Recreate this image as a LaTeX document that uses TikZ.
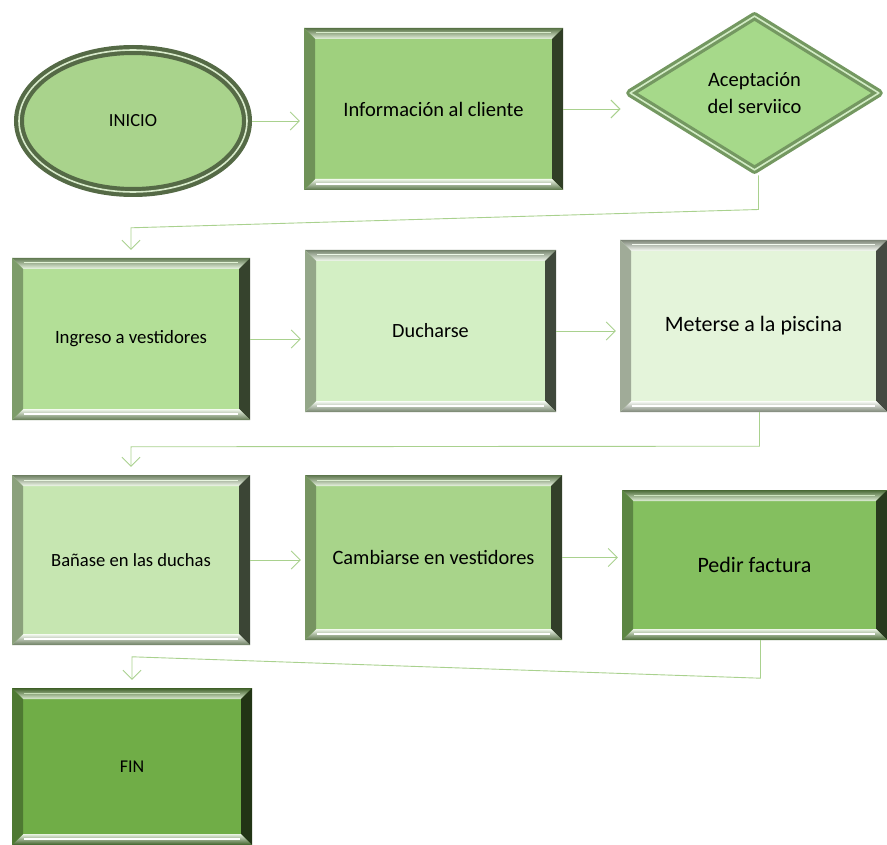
\documentclass[tikz,border=0pt]{standalone}
\usepackage{fontspec}
\setmainfont{Carlito}
\usetikzlibrary{shapes.geometric,arrows.meta,calc}
\definecolor{cIni}{HTML}{A9D38C}
\definecolor{cInfo}{HTML}{9FD07E}
\definecolor{cDia}{HTML}{A6D98A}
\definecolor{cIng}{HTML}{B3DF97}
\definecolor{cDuc}{HTML}{D3EFC4}
\definecolor{cMet}{HTML}{E4F4DA}
\definecolor{cBan}{HTML}{C6E6B1}
\definecolor{cCam}{HTML}{A8D48A}
\definecolor{cPed}{HTML}{84BF5F}
\definecolor{cFin}{HTML}{70AD47}
\definecolor{cLine}{HTML}{A9D18E}
\newcommand\bevelfill[1]{%
  \path (path picture bounding box.north west) coordinate (pNW)
        (path picture bounding box.north east) coordinate (pNE)
        (path picture bounding box.south west) coordinate (pSW)
        (path picture bounding box.south east) coordinate (pSE);
  \shade[top color=#1!55!black, bottom color=#1!25!white]
    (pNW) -- (pNE) -- ([shift={(-11pt,-11pt)}]pNE) -- ([shift={(11pt,-11pt)}]pNW) -- cycle;
  \fill[#1!30!black]
    (pNE) -- (pSE) -- ([shift={(-11pt,11pt)}]pSE) -- ([shift={(-11pt,-11pt)}]pNE) -- cycle;
  \shade[top color=#1!15!white, bottom color=#1!55!black]
    (pSW) -- (pSE) -- ([shift={(-11pt,11pt)}]pSE) -- ([shift={(11pt,11pt)}]pSW) -- cycle;
  \fill[#1!70!black]
    (pNW) -- (pSW) -- ([shift={(11pt,11pt)}]pSW) -- ([shift={(11pt,-11pt)}]pNW) -- cycle;
  \draw[white, line width=1.2pt]
    ([shift={(12pt,6pt)}]pSW) -- ([shift={(-12pt,6pt)}]pSE);
  \draw[white!60!#1, line width=1pt]
    ([shift={(12pt,-5pt)}]pNW) -- ([shift={(-12pt,-5pt)}]pNE);
}
\tikzset{
  bevelbox/.style={rectangle, inner sep=0pt, fill=#1, path picture={\bevelfill{#1}},
    font=\fontsize{19.5}{23}\selectfont, text=black, align=center},
  bigtxt/.style={font=\fontsize{22}{26}\selectfont},
  conn/.style={draw=cLine, line width=0.9pt, -{Straight Barb[length=9pt,width=18pt]}, shorten >=4pt},
  elbow/.style={draw=cLine, line width=0.9pt, -{Straight Barb[length=9pt,width=18pt]}, shorten >=8pt}
}
\begin{document}
\begin{tikzpicture}[x=1pt,y=-1pt]
\useasboundingbox (0,0) rectangle (887,845);
% row 1
\node[ellipse, minimum width=228pt, minimum height=142pt, inner sep=0pt,
      fill=cIni, draw=cIni!50!black, line width=10pt,
      postaction={draw=white!55!cIni, line width=1.6pt},
      font=\fontsize{18.5}{22}\selectfont] (ini) at (133,121) {INICIO};
\node[bevelbox=cInfo, minimum width=259pt, minimum height=162pt, font=\fontsize{20.5}{24}\selectfont] (info) at (433.5,109) {Información al cliente};
\node[diamond, minimum width=252pt, minimum height=157pt, inner sep=0pt,
      fill=cDia, draw=cDia!70!black, line width=8pt, line join=round,
      postaction={draw=white!50!cDia, line width=1.6pt, line join=round},
      font=\fontsize{20.5}{27}\selectfont, align=center] (dia) at (754.5,93) {Aceptación\\del serviico};
% row 2
\node[bevelbox=cIng, minimum width=238pt, minimum height=162pt, font=\fontsize{18.8}{22}\selectfont] (ing) at (131,339) {Ingreso a vestidores};
\node[bevelbox=cDuc, minimum width=251pt, minimum height=162pt, font=\fontsize{20.2}{24}\selectfont] (duc) at (430.5,331) {Ducharse};
\node[bevelbox=cMet, minimum width=267pt, minimum height=172pt, bigtxt] (met) at (753.5,326) {Meterse a la piscina};
% row 3
\node[bevelbox=cBan, minimum width=238pt, minimum height=170pt, font=\fontsize{18.6}{22}\selectfont] (ban) at (131,560) {Bañase en las duchas};
\node[bevelbox=cCam, minimum width=257pt, minimum height=165pt, font=\fontsize{20.4}{24}\selectfont] (cam) at (433.5,557.5) {Cambiarse en vestidores};
\node[bevelbox=cPed, minimum width=265pt, minimum height=150pt, bigtxt] (ped) at (754.5,565) {Pedir factura};
% row 4
\node[bevelbox=cFin, minimum width=240pt, minimum height=157pt, font=\fontsize{18}{22}\selectfont] (fin) at (132,766.5) {FIN};
% connectors
\draw[conn] (ini.east) -- (ini.east -| info.west);
\draw[conn] (info.east) -- (info.east -| dia.west);
\draw[conn] (ing.east) -- (ing.east -| duc.west);
\draw[conn] (duc.east) -- (duc.east -| met.west);
\draw[conn] (ban.east) -- (ban.east -| cam.west);
\draw[conn] (cam.east) -- (cam.east -| ped.west);
\draw[elbow] ([xshift=4pt]dia.south) -- ++(0,34) -- ($(ing.north)+(0,-30)$) -- (ing.north);
\draw[elbow] ([xshift=6pt]met.south) -- ++(0,34) -- ($(ban.north)+(0,-28)$) -- (ban.north);
\draw[elbow] ([xshift=6pt]ped.south) -- ++(0,38) -- ($(fin.north)+(0,-31)$) -- (fin.north);
\end{tikzpicture}
\end{document}
